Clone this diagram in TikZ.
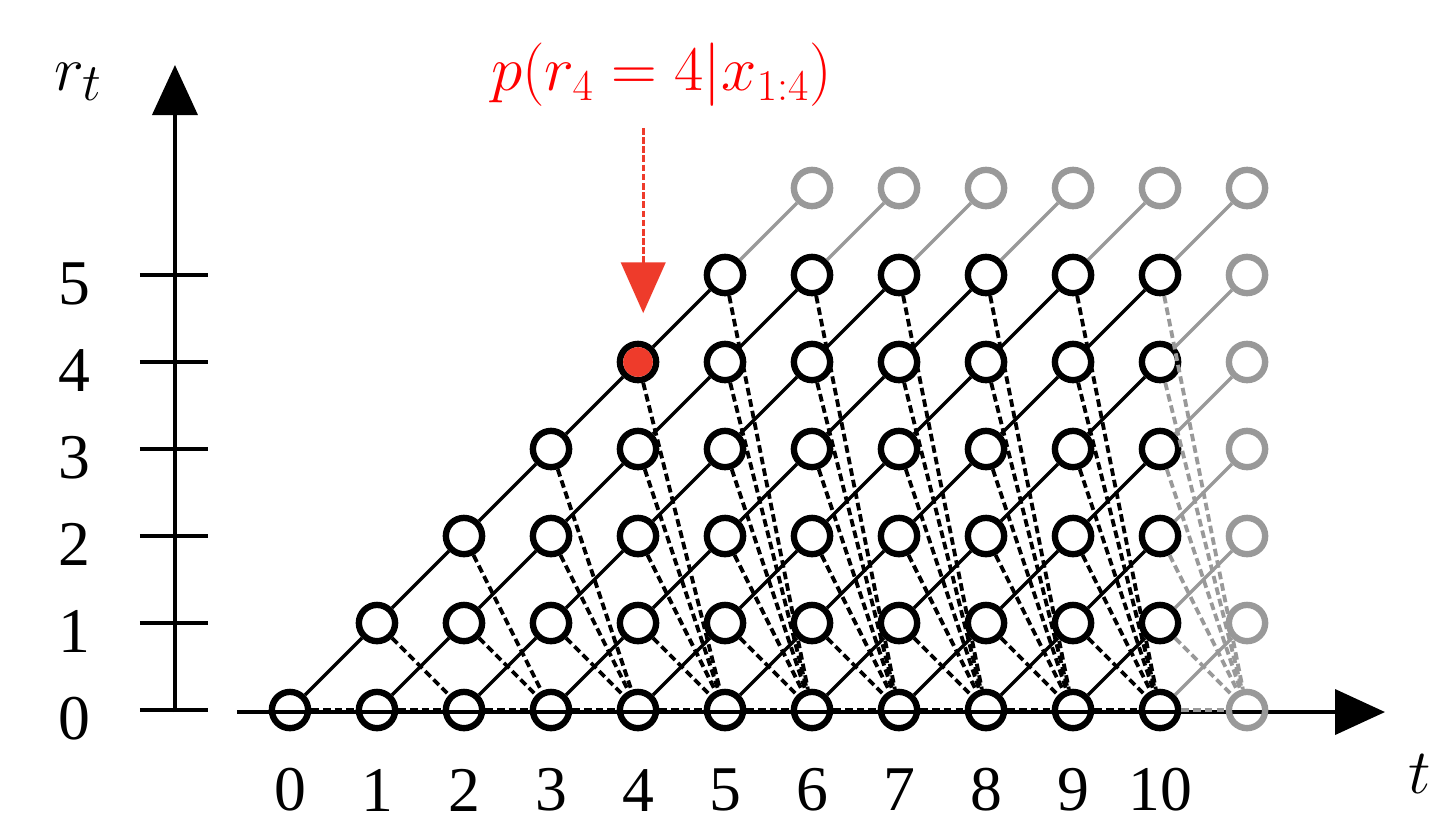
\documentclass[tikz,border=0pt]{standalone}
\usepackage{fontspec}
\setmainfont{Liberation Serif}
\usetikzlibrary{arrows.meta}
\definecolor{hot}{HTML}{EE3B2B}

\begin{document}
\begin{tikzpicture}[x=1.2cm, y=1.2cm, >={Triangle[length=0.69cm, width=0.62cm]},
	st/.style={circle, draw, line width=2.5pt, minimum size=0.5cm, inner sep=0pt},
	stg/.style={st, draw=black!40},
	axis/.style={line width=1.6pt},
	growline/.style={line width=1.3pt},
	cp/.style={line width=1.5pt, dash pattern=on 3pt off 1.6pt},
	num/.style={font=\fontsize{25}{29}\selectfont, inner sep=0pt}]
	\useasboundingbox (-3.333,-1.310) rectangle (13.103,8.161);
	% axes
	\draw[axis, ->] (-0.609,-0.023) -- (12.586,-0.023);
	\draw[axis, ->] (-1.322,-0.023) -- (-1.322,7.414);
	\foreach \r in {0,...,5} {
		\draw[axis] (-1.724,\r) -- (-0.943,\r);
		\node[num] (lr\r) at (-2.48,\r-0.1) {\r};
	}
	\node[font=\fontsize{30}{34}\selectfont] (ry) at (-2.43,7.22) {$r_t$};
	\node[font=\fontsize{28}{32}\selectfont, inner sep=0pt] (tx) at (12.98,-0.74) {$t$};
	% run-length states
	\foreach \t in {0,...,10} {
		\node[num] (lt\t) at (\t,-0.92) {\t};
		\pgfmathtruncatemacro\m{min(\t,5)}
		\foreach \r in {0,...,\m} {\node[st] (n\t-\r) at (\t,\r) {};}
	}
	\foreach \t in {6,...,11} {\node[stg] (n\t-6) at (\t,6) {};}
	\foreach \r in {0,...,5} {\node[stg] (n11-\r) at (11,\r) {};}
	\fill[hot] (n4-4.center) circle (0.205cm);
	% growth and changepoint
	\foreach \t in {0,...,9} {
		\pgfmathtruncatemacro\u{\t+1}
		\pgfmathtruncatemacro\m{min(\t,5)}
		\foreach \r in {0,...,\m} {
			\pgfmathtruncatemacro\s{\r+1}
			\draw[cp] (n\t-\r) -- (n\u-0);
			\ifnum\r<5 \draw[growline] (n\t-\r) -- (n\u-\s); \else \draw[growline, black!40] (n\t-\r) -- (n\u-\s); \fi
		}
	}
	\foreach \r in {0,...,5} {
		\pgfmathtruncatemacro\s{\r+1}
		\draw[growline, black!40] (n10-\r) -- (n11-\s);
		\draw[cp, black!40] (n10-\r) -- (n11-0);
	}
	% query
	\node[text=red, font=\fontsize{26.5}{30}\selectfont] (lbl) at (4.27,7.30) {$p(r_4 = 4|x_{1:4})$};
	\coordinate (ann) at (4.06,6.69);
	\draw[hot, line width=1.3pt, dash pattern=on 2.6pt off 1pt, -{Triangle[length=0.7cm, width=0.61cm]}, shorten >=0.38cm] (ann) -- (ann |- n4-4.north);
\end{tikzpicture}
\end{document}
